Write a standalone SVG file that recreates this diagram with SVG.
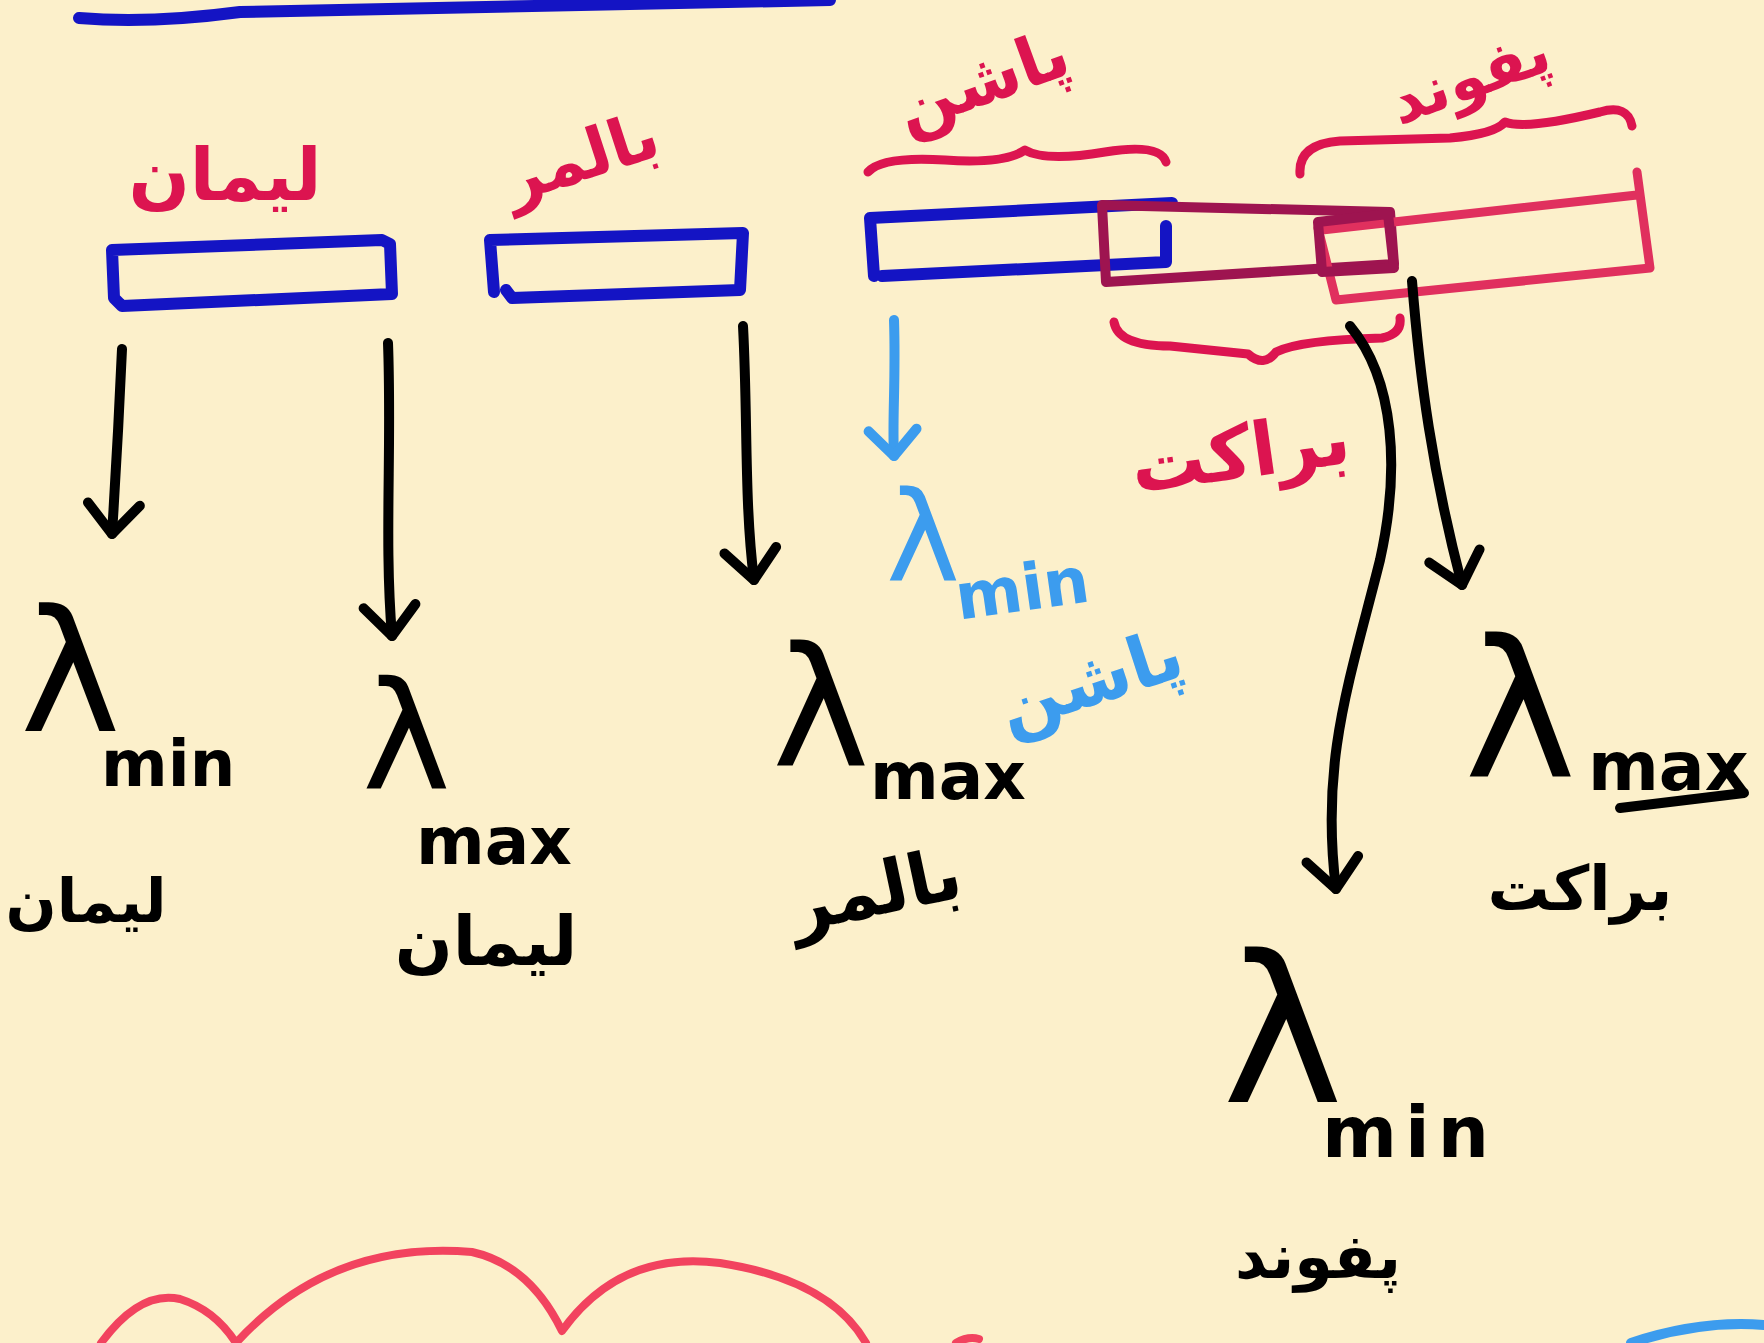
<svg xmlns="http://www.w3.org/2000/svg" width="1764" height="1343" viewBox="0 0 1764 1343">
<defs>
<style>
.s{fill:none;stroke-linecap:round;stroke-linejoin:round}
.blue{stroke:#1414c4;stroke-width:12}
.red{stroke:#dc1450;stroke-width:9}
.pink{stroke:#e0305e;stroke-width:9}
.dark{stroke:#9e1450;stroke-width:10}
.blk{stroke:#000;stroke-width:10}
.lb{stroke:#3c9cee;stroke-width:10}
.cloud{stroke:#f2435f;stroke-width:8}
.fa{font-family:"DejaVu Sans",sans-serif;font-weight:bold;text-anchor:middle}
.lam{font-family:"DejaVu Sans",sans-serif}
.sub{font-family:"DejaVu Sans",sans-serif;font-weight:bold}
.tr{fill:#dc1450}.tk{fill:#000}.tb{fill:#3c9cee}
</style>
<marker id="ahk" markerUnits="userSpaceOnUse" viewBox="-45 -40 55 80" refX="0" refY="0" markerWidth="55" markerHeight="80" orient="auto">
<path d="M-30,-26 L0,0 L-30,26" fill="none" stroke="#000" stroke-width="10" stroke-linecap="round" stroke-linejoin="round"/>
</marker>
<marker id="ahb" markerUnits="userSpaceOnUse" viewBox="-45 -40 55 80" refX="0" refY="0" markerWidth="55" markerHeight="80" orient="auto">
<path d="M-26,-24 L0,0 L-26,24" fill="none" stroke="#3c9cee" stroke-width="10" stroke-linecap="round" stroke-linejoin="round"/>
</marker>
</defs>
<rect width="1764" height="1343" fill="#fcf0cb"/>
<path class="s blue" d="M79,18 Q150,24 240,12 L830,0"/>

<g id="lyman">
<text class="fa tr" x="225" y="200" font-size="72">لیمان</text>
<path class="s blue" d="M112,250 L382,240 L390,244 L392,294 L122,306 L114,298 Z"/>
</g>
<g id="balmer">
<text class="fa tr" x="580" y="180" font-size="66" transform="rotate(-18 580 155)">بالمر</text>
<path class="s blue" d="M494,292 L490,240 L743,233 L740,290 L512,298 L506,290"/>
</g>
<g id="paschen">
<text class="fa tr" x="982" y="104" font-size="68" transform="rotate(-20 982 80)">پاشن</text>
<path class="s red" d="M868,172 Q882,156 945,160 Q1005,164 1025,150 Q1045,162 1105,152 Q1160,143 1166,162"/>
<path class="s blue" d="M874,276 L870,218 L1172,203 M1166,226 L1166,262 L882,276"/>
</g>
<g id="brackett">
<path class="s dark" d="M1102,205 L1390,212 L1394,264 L1106,282 Z"/>
<path class="s red" d="M1114,322 Q1118,346 1170,346 L1248,354 Q1264,368 1276,352 Q1300,340 1382,338 Q1402,334 1400,318"/>
<text class="fa tr" x="1240" y="478" font-size="74" transform="rotate(-8 1240 450)">براکت</text>
</g>
<g id="pfund">
<text class="fa tr" x="1470" y="98" font-size="62" transform="rotate(-20 1470 78)">پفوند</text>
<path class="s red" d="M1300,174 Q1298,144 1340,141 L1450,138 Q1495,134 1505,122 Q1525,130 1600,112 Q1628,104 1632,126"/>
<path class="s pink" d="M1322,230 L1637,195 M1637,172 L1650,268 L1336,300 L1318,228"/>
<path class="s dark" d="M1318,222 L1388,214 L1394,268 L1322,272 Z"/>
</g>

<g id="connectors">
<path class="s blk" d="M122,349 Q118,440 112,534" marker-end="url(#ahk)"/>
<path class="s blk" d="M388,343 C392,450 384,540 392,636" marker-end="url(#ahk)"/>
<path class="s blk" d="M743,326 C748,420 744,500 754,580" marker-end="url(#ahk)"/>
<path class="s lb" d="M894,320 C896,380 892,420 894,456" marker-end="url(#ahb)"/>
<path class="s blk" d="M1350,326 C1395,380 1400,470 1380,560 C1350,680 1320,760 1336,889" marker-end="url(#ahk)"/>
<path class="s blk" d="M1412,281 C1420,380 1432,470 1462,585" marker-end="url(#ahk)"/>
</g>

<g id="lyman-min">
<text class="lam tk" x="20" y="731" font-size="170">λ</text>
<text class="sub tk" x="101" y="786" font-size="64">min</text>
<text class="fa tk" x="86" y="922" font-size="60">لیمان</text>
</g>
<g id="lyman-max">
<text class="lam tk" x="362" y="788" font-size="150">λ</text>
<text class="sub tk" x="416" y="864" font-size="66">max</text>
<text class="fa tk" x="486" y="965" font-size="68">لیمان</text>
</g>
<g id="balmer-max">
<text class="lam tk" x="772" y="765" font-size="165">λ</text>
<text class="sub tk" x="870" y="799" font-size="66">max</text>
<text class="fa tk" x="875" y="915" font-size="72" transform="rotate(-12 875 890)">بالمر</text>
</g>
<g id="paschen-min">
<text class="lam tb" x="886" y="580" font-size="125">λ</text>
<text class="sub tb" x="956" y="620" font-size="64" transform="rotate(-8 956 600)">min</text>
<text class="fa tb" x="1090" y="705" font-size="72" transform="rotate(-18 1090 680)">پاشن</text>
</g>
<g id="brackett-max">
<text class="lam tk" x="1464" y="776" font-size="190">λ</text>
<text class="sub tk" x="1588" y="790" font-size="68">max</text>
<path class="s blk" d="M1620,808 L1744,793"/>
<text class="fa tk" x="1580" y="910" font-size="62">براکت</text>
</g>
<g id="pfund-min">
<text class="lam tk" x="1222" y="1102" font-size="205">λ</text>
<text class="sub tk" x="1322" y="1157" font-size="72" letter-spacing="8">min</text>
<text class="fa tk" x="1318" y="1278" font-size="62">پفوند</text>
</g>

<path class="s cloud" d="M101,1343 Q140,1290 180,1299 Q215,1310 236,1343 M236,1343 Q330,1240 472,1252 Q530,1265 562,1331 Q620,1250 720,1263 Q830,1280 866,1343 M956,1343 Q968,1336 979,1339"/>
<path class="s" stroke="#3c9cee" stroke-width="10" d="M1631,1343 Q1700,1320 1764,1325"/>
</svg>
